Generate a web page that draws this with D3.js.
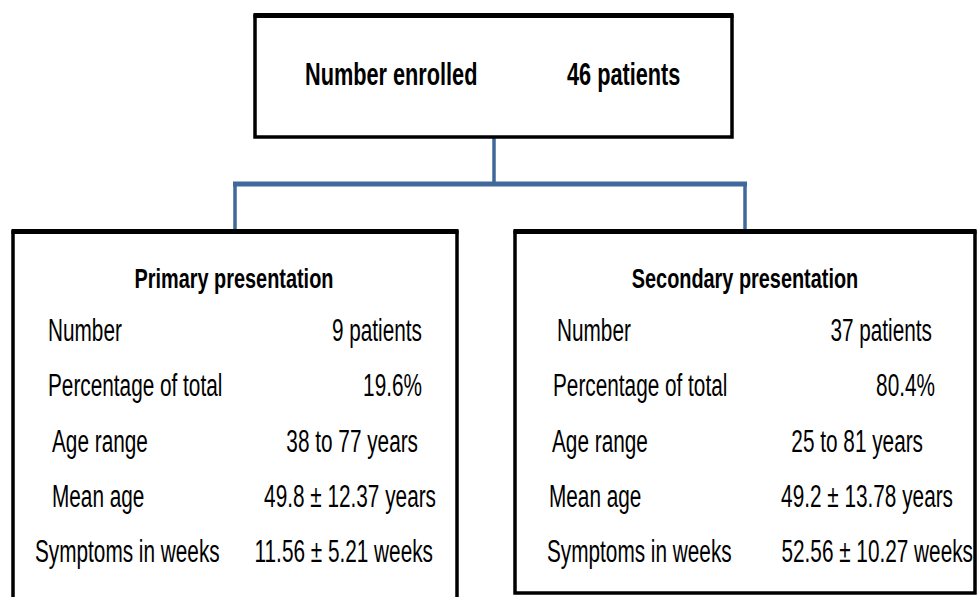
<!DOCTYPE html>
<html>
<head>
<meta charset="utf-8">
<script src="https://cdn.jsdelivr.net/npm/d3@7/dist/d3.min.js"></script>
<style>
  html, body { margin: 0; padding: 0; background: #fff; }
  svg { display: block; }
  text { font-family: "Liberation Sans Narrow", "Liberation Sans", Arial, sans-serif; fill: #000; }
</style>
</head>
<body>
<div id="chart"></div>
<script>
// Flow diagram data
const enrolledLabel = "Number enrolled";
const enrolledValue = "46 patients";

const groupTitles = ["Primary presentation", "Secondary presentation"];
const rowLabels = ["Number", "Percentage of total", "Age range", "Mean age", "Symptoms in weeks"];
const primaryValues = ["9 patients", "19.6%", "38 to 77 years", "49.8 \u00b1 12.37 years", "11.56 \u00b1 5.21 weeks"];
const secondaryValues = ["37 patients", "80.4%", "25 to 81 years", "49.2 \u00b1 13.78 years", "52.56 \u00b1 10.27 weeks"];

const width = 977, height = 597;
const lineBlue = "#41689a";

const svg = d3.select("#chart").append("svg")
    .attr("width", width)
    .attr("height", height);

// squeeze text horizontally so it looks like the narrow Calibri of the original
function squeeze(sel, k) {
    sel.each(function () {
        const len = this.getComputedTextLength();
        d3.select(this)
            .attr("textLength", len * k)
            .attr("lengthAdjust", "spacingAndGlyphs");
    });
}

// box with heavier top edge
function drawBox(x0, y0, x1, y1) {
    const g = svg.append("g");
    g.append("rect")
        .attr("x", x0).attr("y", y0)
        .attr("width", x1 - x0).attr("height", y1 - y0)
        .attr("fill", "#fff")
        .attr("stroke", "#000")
        .attr("stroke-width", 3.5);
    g.append("line")
        .attr("x1", x0 - 1.5).attr("x2", x1 + 1.5)
        .attr("y1", y0 - 0.5).attr("y2", y0 - 0.5)
        .attr("stroke", "#000")
        .attr("stroke-width", 5);
    return g;
}

// connectors
const conn = svg.append("g").attr("stroke", lineBlue).attr("fill", "none");
conn.append("line").attr("x1", 494).attr("x2", 494).attr("y1", 137).attr("y2", 184).attr("stroke-width", 3.5);
conn.append("line").attr("x1", 233).attr("x2", 747).attr("y1", 184).attr("y2", 184).attr("stroke-width", 5);
conn.append("line").attr("x1", 235).attr("x2", 235).attr("y1", 184).attr("y2", 232).attr("stroke-width", 3.5);
conn.append("line").attr("x1", 745).attr("x2", 745).attr("y1", 184).attr("y2", 232).attr("stroke-width", 3.5);

// top box
const topBox = drawBox(255, 16, 732, 137);
topBox.append("text")
    .attr("x", 305).attr("y", 85)
    .attr("font-size", 31).attr("font-weight", "bold")
    .text(enrolledLabel)
    .call(squeeze, 0.7);
topBox.append("text")
    .attr("x", 567).attr("y", 85)
    .attr("font-size", 31).attr("font-weight", "bold")
    .text(enrolledValue)
    .call(squeeze, 0.7);

// lower boxes
const rowY = d3.scaleLinear().domain([0, rowLabels.length - 1]).range([341, 562]);

// layout per panel; indents follow the hand-spaced original
const panels = [
    { x0: 13, x1: 457, y1: 610, titleX: 234,
      labelX: [48, 48, 52, 52, 35], valueX: [422, 422, 418, 436, 433], values: primaryValues },
    { x0: 515, x1: 975, y1: 593, titleX: 745,
      labelX: [557, 553, 552, 549, 547], valueX: [932, 935, 923, 953, 973], values: secondaryValues }
];

panels.forEach((p, i) => {
    const g = drawBox(p.x0, 232, p.x1, p.y1);

    g.append("text")
        .attr("x", p.titleX).attr("y", 288)
        .attr("text-anchor", "middle")
        .attr("font-size", 28).attr("font-weight", "bold")
        .text(groupTitles[i])
        .call(squeeze, 0.71);

    g.selectAll(".row-label")
        .data(rowLabels)
        .enter().append("text")
        .attr("class", "row-label")
        .attr("x", (d, j) => p.labelX[j])
        .attr("y", (d, j) => rowY(j))
        .attr("font-size", 31)
        .text(d => d)
        .call(squeeze, 0.67);

    g.selectAll(".row-value")
        .data(p.values)
        .enter().append("text")
        .attr("class", "row-value")
        .attr("x", (d, j) => p.valueX[j])
        .attr("y", (d, j) => rowY(j))
        .attr("text-anchor", "end")
        .attr("font-size", 31)
        .text(d => d)
        .call(squeeze, 0.67);
});
</script>
</body>
</html>
